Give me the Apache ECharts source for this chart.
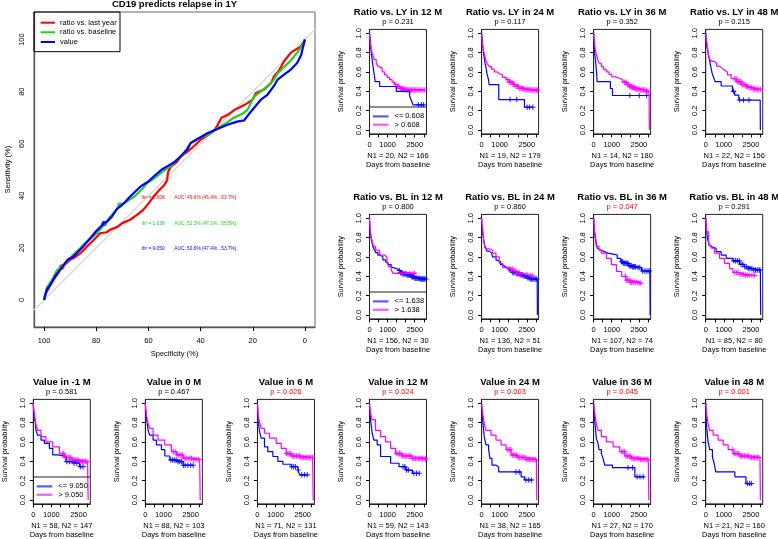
<!DOCTYPE html>
<html><head><meta charset="utf-8">
<script src="https://cdn.jsdelivr.net/npm/echarts@6/dist/echarts.min.js"></script>
<style>html,body{margin:0;padding:0;background:#fff}#wrap{position:relative;width:778px;height:539px}
#roc,#km{position:absolute;left:0;top:0;width:778px;height:539px}</style>
</head><body><div id="wrap"><div id="roc"></div><div id="km"></div></div>
<script>
// ---------------- ROC data (specificity %, sensitivity %) ----------------
const rocRed = [[100,0],[99.6,1.9],[98,5],[96.4,7.7],[94.5,10.5],[93.2,12.6],[91,14.5],[90,15.4],[88,16.5],[86,18],[84,20],[82.3,21.8],[80,24],[78.5,25.6],[76,26],[74.6,27],[72,28],[70,29.5],[67,30.8],[64,33],[62,34.6],[60,37],[58,39.7],[56,42],[54,44],[52.8,46],[52.5,49],[51.5,51],[49,53],[47.7,55],[45,57],[42,59.5],[40,61.5],[37,63.5],[34.5,65.5],[33.6,67],[32,70],[29.7,71],[27,73],[24,74.5],[22,75.6],[20,77],[18.8,79.5],[15.7,80.8],[13,83.3],[11.8,86],[10,88],[8,91.7],[5.4,95],[1.5,97.4],[0,100]];
const rocGreen = [[100,0],[99.6,0.6],[99,4.6],[97,7.5],[95,11.5],[92,14],[88.8,17.3],[86,20],[83.6,22.4],[81,24.5],[78.5,27],[76.5,29.5],[74.6,32],[72.5,34.5],[70.8,36.5],[68,38],[65,40],[62.5,42.5],[60.5,44.9],[58,46.5],[55,49],[51.5,51.3],[49,53.8],[46.5,56],[43.8,60.3],[41,62],[38.8,62.8],[36,64],[33.6,66],[30,68],[27.3,70],[24,71.5],[22,73],[19.6,78],[17,80],[14.4,82],[12,84.5],[10.5,87],[8,89.5],[5.4,92],[3,95],[1.5,97],[0,100]];
const rocBlue = [[100,0],[99,3.8],[97.5,6],[95.8,9],[93.5,12],[91,15.4],[89,16.5],[87.4,18],[85,20.5],[82.3,23.7],[80,26.5],[77,29.4],[75.9,30],[74,32],[72,35],[69,37.5],[67,39.7],[63,43.6],[60,45.5],[58,47.4],[55,50],[52.8,51.3],[50,53],[47.7,55.1],[45,58],[43.8,60.3],[40,62.5],[37.4,64],[34,65.5],[29.7,67.3],[26,68.5],[23.3,69],[21,72],[18.5,75],[16.9,76.9],[14.4,78.8],[12,82],[10.5,84.6],[8,86.5],[5.4,88.5],[3,91],[1.5,94],[0,100]];
const rocThrRed = [[93.2,12.6]];
const rocThrGreen = [[71,36.5]];
const rocThrBlue = [[77,29.4]];
const rocDiag = [[103.85,-3.85],[-3.85,103.85]];
const rocTicks = [0,20,40,60,80,100];
const rocLegend = ['ratio vs. last year','ratio vs. baseline','value'];
const rocThrText = ['thr = 0.608','thr = 1.638','thr = 9.050'];
const rocAucText = ['AUC: 49.6% (45.4%...53.7%)','AUC: 51.3% (47.1%...55.5%)','AUC: 50.6% (47.4%...53.7%)'];

// ---------------- Kaplan-Meier data (days, survival) ----------------
const ly12Lo = [[0,1],[30,0.95],[55,0.9],[75,0.85],[95,0.8],[130,0.75],[165,0.7],[200,0.65],[240,0.6],[280,0.55],[310,0.5],[560,0.45],[1480,0.4],[2220,0.35],[2330,0.3],[2400,0.26],[3000,0.26]];
const ly12LoC = [2700,2870,2990];
const ly12Hi = [[0,1],[20,0.95],[40,0.92],[60,0.88],[93,0.85],[130,0.81],[185,0.77],[250,0.73],[370,0.69],[460,0.66],[555,0.64],[700,0.6],[833,0.57],[970,0.545],[1111,0.52],[1250,0.495],[1389,0.47],[1530,0.45],[1667,0.43],[1850,0.42],[2037,0.414],[3050,0.414]];
const ly12HiC = [1450,1550,1620,1700,1760,1820,1880,1940,2000,2060,2120,2180,2250,2320,2400,2480,2560,2650,2750,2850,2950,3050];

const ly24Lo = [[0,1],[25,0.95],[50,0.9],[80,0.84],[110,0.79],[150,0.74],[200,0.68],[260,0.63],[300,0.58],[370,0.53],[420,0.47],[950,0.315],[2370,0.236],[2850,0.236]];
const ly24LoC = [1574,1944,2518,2648,2833];
const ly24Hi = [[0,1],[30,0.93],[55,0.88],[100,0.83],[148,0.79],[200,0.75],[240,0.72],[320,0.68],[426,0.655],[550,0.63],[700,0.6],[850,0.585],[981,0.57],[1150,0.545],[1352,0.52],[1530,0.495],[1722,0.47],[1900,0.45],[2093,0.43],[2350,0.42],[2648,0.414],[3100,0.41]];
const ly24HiC = [1444,1530,1610,1690,1760,1830,1900,1970,2040,2110,2180,2250,2320,2400,2480,2560,2640,2720,2800,2880,2960,3040,3100];

const ly36Lo = [[0,1],[15,0.929],[35,0.857],[55,0.786],[110,0.714],[140,0.643],[170,0.571],[190,0.5],[925,0.429],[1040,0.357],[3100,0.357]];
const ly36LoC = [2000,2520,2925];
const ly36Hi = [[0,1],[20,0.95],[40,0.91],[74,0.86],[100,0.82],[148,0.78],[200,0.75],[240,0.72],[300,0.69],[426,0.655],[550,0.625],[700,0.6],[850,0.575],[1000,0.55],[1200,0.535],[1444,0.52],[1600,0.495],[1815,0.47],[2000,0.45],[2093,0.44],[2300,0.425],[2550,0.414],[2850,0.4],[3060,0.4],[3080,0]];
const ly36HiC = [1700,1780,1850,1900,1950,2000,2050,2100,2150,2200,2260,2320,2380,2450,2520,2600,2680,2760,2840,2920,3000];

const ly48Lo = [[0,1],[18,0.955],[40,0.91],[70,0.86],[111,0.82],[150,0.77],[204,0.73],[250,0.68],[296,0.64],[350,0.59],[420,0.55],[520,0.5],[852,0.455],[1480,0.4],[1600,0.36],[1830,0.31],[3010,0.31],[3020,0]];
const ly48LoC = [1537,1870,2090,2390];
const ly48Hi = [[0,1],[18,0.95],[60,0.9],[111,0.83],[150,0.78],[204,0.74],[300,0.71],[481,0.69],[600,0.66],[759,0.64],[900,0.62],[1037,0.6],[1200,0.57],[1407,0.53],[1685,0.5],[1963,0.47],[2200,0.45],[2333,0.44],[2600,0.425],[2800,0.42],[3050,0.42]];
const ly48HiC = [1600,1680,1750,1820,1880,1940,2000,2060,2120,2180,2240,2300,2380,2460,2540,2620,2700,2780,2860,2940,3020];

const bl12Lo = [[0,1],[37,0.86],[80,0.8],[148,0.74],[200,0.7],[278,0.67],[350,0.645],[463,0.62],[600,0.6],[741,0.57],[900,0.545],[1019,0.52],[1200,0.495],[1296,0.48],[1500,0.46],[1667,0.44],[1850,0.425],[2037,0.414],[2300,0.395],[2500,0.38],[2800,0.372],[3120,0.372]];
const bl12LoC = [1650,1720,1790,1850,1910,1970,2030,2090,2150,2210,2270,2330,2390,2450,2510,2570,2630,2690,2750,2810,2870,2930,2990,3050,3110];
const bl12Hi = [[0,1],[20,0.93],[37,0.9],[70,0.83],[148,0.76],[222,0.71],[333,0.67],[556,0.62],[833,0.6],[963,0.55],[1056,0.5],[1200,0.47],[1300,0.43],[2500,0.43]];
const bl12HiC = [1760,2000,2220,2400,2500];

const bl24Lo = [[0,1],[30,0.9],[56,0.86],[100,0.8],[148,0.74],[200,0.7],[241,0.69],[300,0.66],[426,0.64],[550,0.62],[611,0.6],[800,0.57],[889,0.55],[1050,0.52],[1167,0.5],[1300,0.48],[1537,0.455],[1700,0.44],[1907,0.43],[2100,0.415],[2278,0.4],[2500,0.385],[2648,0.372],[3075,0.372],[3085,0]];
const bl24LoC = [1700,1780,1850,1920,1990,2060,2130,2200,2270,2340,2410,2480,2550,2620,2690,2760,2830,2900,2970,3040];
const bl24Hi = [[0,1],[20,0.94],[55,0.9],[111,0.78],[185,0.69],[333,0.67],[611,0.64],[796,0.6],[981,0.535],[1167,0.49],[1444,0.476],[1722,0.455],[1907,0.43],[2185,0.414],[2648,0.407],[2800,0.407]];
const bl24HiC = [1500,1600,1700,1800,1900,2000,2100,2200,2400,2550,2700,2800];

const bl36Lo = [[0,1],[20,0.93],[56,0.86],[100,0.8],[148,0.74],[200,0.69],[300,0.67],[426,0.655],[600,0.64],[800,0.63],[1074,0.62],[1300,0.586],[1500,0.55],[1630,0.534],[1907,0.51],[2100,0.5],[2370,0.49],[2648,0.455],[3110,0.455],[3120,0]];
const bl36LoC = [1537,1600,1660,1720,1780,1840,1900,1960,2020,2080,2140,2200,2260,2320,2450,2550,2700,2800,2900,3000,3080];
const bl36Hi = [[0,1],[20,0.93],[56,0.83],[148,0.71],[296,0.67],[426,0.64],[700,0.586],[980,0.52],[1260,0.45],[1537,0.4],[1780,0.36],[2000,0.34],[2500,0.33],[2650,0.33]];
const bl36HiC = [1750,1830,1900,1970,2040,2110,2200,2300,2400,2500,2600];

const bl48Lo = [[0,1],[20,0.93],[56,0.86],[111,0.78],[204,0.72],[300,0.7],[389,0.69],[574,0.655],[852,0.62],[1130,0.586],[1500,0.56],[1870,0.524],[2130,0.5],[2333,0.48],[2610,0.466],[3020,0.466],[3037,0]];
const bl48LoC = [1550,1650,1750,1850,1950,2050,2150,2250,2350,2450,2550,2650,2750,2850,2950,3000];
const bl48Hi = [[0,1],[20,0.93],[56,0.86],[167,0.72],[296,0.69],[481,0.64],[759,0.586],[1037,0.534],[1315,0.48],[1500,0.44],[1870,0.42],[2148,0.41],[2700,0.41]];
const bl48HiC = [1600,1700,1800,1900,2000,2100,2200,2300,2400,2550,2700];

const vm1Lo = [[0,1],[20,0.93],[56,0.86],[110,0.8],[148,0.72],[241,0.67],[426,0.62],[611,0.586],[889,0.534],[1074,0.466],[1352,0.45],[1815,0.397],[2185,0.38],[2556,0.345],[2750,0.345]];
const vm1LoC = [1850,2000,2150,2250,2400,2600,2750];
const vm1Hi = [[0,1],[20,0.94],[56,0.9],[100,0.84],[148,0.78],[241,0.72],[426,0.655],[700,0.6],[1074,0.55],[1444,0.48],[1722,0.44],[2093,0.414],[2556,0.397],[3000,0.397],[3030,0]];
const vm1HiC = [1600,1680,1760,1840,1920,2000,2080,2160,2240,2320,2400,2480,2560,2640,2720,2800,2880,2960];

const v0Lo = [[0,1],[20,0.93],[56,0.86],[150,0.72],[241,0.67],[426,0.62],[611,0.57],[889,0.52],[1074,0.455],[1352,0.414],[1722,0.397],[2093,0.36],[2650,0.36]];
const v0LoC = [1400,1500,1600,1700,1800,1900,2000,2100,2200,2350,2500,2650];
const v0Hi = [[0,1],[20,0.94],[56,0.88],[150,0.79],[241,0.74],[426,0.67],[700,0.62],[1074,0.57],[1444,0.5],[1722,0.466],[2093,0.43],[2650,0.42],[3000,0.414],[3030,0]];
const v0HiC = [1550,1650,1750,1850,1950,2050,2150,2250,2350,2450,2550,2650,2750,2850,2950];

const v6Lo = [[0,1],[20,0.93],[37,0.83],[111,0.71],[204,0.64],[389,0.55],[574,0.5],[852,0.45],[1130,0.4],[1407,0.37],[1870,0.345],[2240,0.31],[2330,0.26],[2800,0.26]];
const v6LoC = [1900,2000,2100,2250,2450,2600,2750];
const v6Hi = [[0,1],[20,0.94],[37,0.88],[111,0.81],[204,0.74],[389,0.69],[667,0.64],[1037,0.586],[1315,0.534],[1593,0.48],[1870,0.455],[2330,0.44],[3050,0.44],[3080,0]];
const v6HiC = [1600,1680,1760,1840,1920,2000,2080,2160,2240,2320,2400,2480,2560,2640,2720,2800,2880,2960,3040];

const v12Lo = [[0,1],[20,0.93],[56,0.83],[148,0.69],[241,0.62],[426,0.57],[611,0.45],[1167,0.38],[1630,0.345],[2000,0.31],[2370,0.276],[2750,0.276]];
const v12LoC = [1850,1950,2050,2150,2450,2600,2750];
const v12Hi = [[0,1],[20,0.95],[56,0.9],[148,0.83],[333,0.72],[611,0.655],[889,0.6],[1167,0.534],[1444,0.48],[1815,0.455],[2370,0.43],[3100,0.42]];
const v12HiC = [1500,1580,1660,1740,1820,1900,1980,2060,2140,2220,2300,2380,2460,2540,2620,2700,2780,2860,2940,3020,3100];

const v24Lo = [[0,1],[20,0.92],[56,0.83],[148,0.655],[241,0.57],[389,0.52],[463,0.43],[574,0.36],[800,0.34],[944,0.29],[2185,0.24],[2370,0.207],[2850,0.207]];
const v24LoC = [1900,2080,2450,2600,2750];
const v24Hi = [[0,1],[20,0.95],[56,0.91],[148,0.79],[241,0.72],[519,0.67],[796,0.62],[1074,0.57],[1352,0.52],[1630,0.466],[2000,0.44],[2463,0.42],[3030,0.42],[3050,0]];
const v24HiC = [1450,1530,1610,1690,1770,1850,1930,2010,2090,2170,2250,2330,2410,2490,2570,2650,2730,2810,2890,2970];

const v36Lo = [[0,1],[20,0.93],[56,0.83],[148,0.64],[241,0.586],[296,0.52],[426,0.48],[519,0.43],[611,0.36],[1037,0.334],[2278,0.24],[2800,0.24]];
const v36LoC = [1900,2150,2400,2560,2740];
const v36Hi = [[0,1],[20,0.95],[56,0.91],[148,0.79],[241,0.72],[426,0.655],[700,0.6],[1074,0.55],[1444,0.5],[1722,0.455],[2093,0.43],[2556,0.42],[3020,0.42],[3050,0]];
const v36HiC = [1550,1630,1710,1790,1870,1950,2030,2110,2190,2270,2350,2430,2510,2590,2670,2750,2830,2910,2990];

const v48Lo = [[0,1],[20,0.9],[37,0.79],[130,0.6],[222,0.52],[370,0.45],[463,0.38],[556,0.29],[1611,0.24],[2222,0.17],[2550,0.17]];
const v48LoC = [2300,2420,2520];
const v48Hi = [[0,1],[20,0.95],[37,0.91],[130,0.79],[222,0.72],[407,0.67],[685,0.62],[963,0.57],[1241,0.52],[1519,0.48],[1889,0.455],[2444,0.44],[3000,0.44],[3020,0]];
const v48HiC = [1500,1580,1660,1740,1820,1900,1980,2060,2140,2220,2300,2380,2460,2540,2620,2700,2780,2860,2940];

const kmTitles = ['Ratio vs. LY in 12 M','Ratio vs. LY in 24 M','Ratio vs. LY in 36 M','Ratio vs. LY in 48 M',
  'Ratio vs. BL in 12 M','Ratio vs. BL in 24 M','Ratio vs. BL in 36 M','Ratio vs. BL in 48 M',
  'Value in -1 M','Value in 0 M','Value in 6 M','Value in 12 M','Value in 24 M','Value in 36 M','Value in 48 M'];
const kmP = ['0.231','0.117','0.352','0.215','0.800','0.860','0.047','0.291','0.581','0.467','0.026','0.024','0.003','0.045','0.001'];
const kmN1 = [20,19,14,22,156,136,107,85,58,88,71,59,38,27,21];
const kmN2 = [166,179,180,156,30,51,74,80,147,103,131,143,165,170,160];
const kmLo = [ly12Lo,ly24Lo,ly36Lo,ly48Lo,bl12Lo,bl24Lo,bl36Lo,bl48Lo,vm1Lo,v0Lo,v6Lo,v12Lo,v24Lo,v36Lo,v48Lo];
const kmLoC = [ly12LoC,ly24LoC,ly36LoC,ly48LoC,bl12LoC,bl24LoC,bl36LoC,bl48LoC,vm1LoC,v0LoC,v6LoC,v12LoC,v24LoC,v36LoC,v48LoC];
const kmHi = [ly12Hi,ly24Hi,ly36Hi,ly48Hi,bl12Hi,bl24Hi,bl36Hi,bl48Hi,vm1Hi,v0Hi,v6Hi,v12Hi,v24Hi,v36Hi,v48Hi];
const kmHiC = [ly12HiC,ly24HiC,ly36HiC,ly48HiC,bl12HiC,bl24HiC,bl36HiC,bl48HiC,vm1HiC,v0HiC,v6HiC,v12HiC,v24HiC,v36HiC,v48HiC];
const kmCut = ['0.608','1.638','9.050'];
const kmXTicks = [0,500,1000,1500,2000,2500,3000];
const kmXLabels = [0,1000,2500];
const kmYTicks = [0,0.2,0.4,0.6,0.8,1.0];

// ---------------- layout ----------------
const FONT = '"Liberation Sans", Arial, sans-serif';
const COL0 = 33.3, COLSTEP = 112.07, BW = 57, BH = 104.5;
const ROWTOP = [29.4, 214.4, 399.4];
const panelPos = [];
for (let i = 0; i < 15; i++) {
  if (i < 8) panelPos.push({col: 3 + (i % 4), row: Math.floor(i / 4)});
  else panelPos.push({col: i - 8, row: 2});
}

function survAt(curve, t) {
  let s = curve[0][1];
  for (const p of curve) { if (p[0] <= t) s = p[1]; else break; }
  return s;
}
const PLUS = 'path://M4,0H6V4H10V6H6V10H4V6H0V4H4Z';
const BLUE = '#0000ff', MAG = '#ff00ff';

function txt(list, x, y, text, size, opts) {
  opts = opts || {};
  list.push({type: 'text', x: x, y: y, rotation: opts.rot || 0, silent: true, z: 100,
    style: {text: text, fill: opts.color || '#000', align: opts.align || 'center', verticalAlign: 'middle',
      font: (opts.bold ? 'bold ' : '') + size + 'px ' + FONT}});
}
function seg(list, x1, y1, x2, y2, color, w) {
  list.push({type: 'line', silent: true, z: 100, shape: {x1: x1, y1: y1, x2: x2, y2: y2}, style: {stroke: color, lineWidth: w}});
}
function rect(list, x, y, w, h, color) {
  list.push({type: 'rect', silent: true, z: 99, shape: {x: x, y: y, width: w, height: h}, style: {fill: 'none', stroke: color, lineWidth: 1}});
}
const plainNum = v => String(v);
const axLine = (c, w) => ({show: true, onZero: false, lineStyle: {color: c, width: w}});

// ---------------- ROC chart ----------------
const rocG = [];
const RX = 34, RY = 12, RW = 281, RH = 315;
const rocCols = ['#ff0000', '#22cc22', '#0000ff'];
const rocSeries = [];
rocSeries.push({type: 'line', data: rocDiag, symbol: 'none', lineStyle: {color: '#d6dcd6', width: 1.5}, silent: true});
[rocRed, rocGreen, rocBlue].forEach((d, k) => {
  rocSeries.push({type: 'line', data: d, symbol: 'none', lineStyle: {color: rocCols[k], width: 2.2}, silent: true});
});
[rocThrRed, rocThrGreen, rocThrBlue].forEach((d, k) => {
  rocSeries.push({type: 'scatter', data: d, symbol: 'circle', symbolSize: 5.5, itemStyle: {color: rocCols[k]}, silent: true});
});
txt(rocG, RX + RW / 2, 4.7, 'CD19 predicts relapse in 1Y', 9.5, {bold: true});
txt(rocG, RX + RW / 2, 354, 'Specificity (%)', 7.5);
txt(rocG, 8, RY + RH / 2, 'Sensitivity (%)', 7.5, {rot: Math.PI / 2});
rect(rocG, RX, RY, 86, 39.7, '#000');
const legY = [22.7, 32.3, 42];
for (let k = 0; k < 3; k++) {
  seg(rocG, 40.7, legY[k], 55, legY[k], rocCols[k], 2);
  txt(rocG, 60, legY[k], rocLegend[k], 7.5, {align: 'left'});
}
const aucY = [197.7, 223.3, 248.3];
for (let k = 0; k < 3; k++) {
  txt(rocG, 141.5, aucY[k], rocThrText[k], 4.8, {align: 'left', color: rocCols[k]});
  txt(rocG, 174.3, aucY[k], rocAucText[k], 4.8, {align: 'left', color: rocCols[k]});
}
const rocChart = echarts.init(document.getElementById('roc'));
rocChart.setOption({
  animation: false,
  backgroundColor: '#fff',
  grid: [{left: RX, top: RY, width: RW, height: RH, show: true, borderColor: '#666', borderWidth: 1, outerBoundsMode: 'none'}],
  xAxis: [{type: 'value', position: 'bottom', min: -3.85, max: 103.85, inverse: true,
    axisLine: axLine('#555', 1.3), splitLine: {show: false},
    axisTick: {show: true, length: 4, customValues: rocTicks, lineStyle: {color: '#000'}},
    axisLabel: {customValues: rocTicks, fontSize: 7.5, fontFamily: FONT, color: '#000', margin: 10, formatter: plainNum}}],
  yAxis: [{type: 'value', position: 'left', min: -10.4, max: 110.6,
    axisLine: axLine('#555', 1.3), splitLine: {show: false},
    axisTick: {show: false},
    axisLabel: {customValues: rocTicks, rotate: 90, fontSize: 7.5, fontFamily: FONT, color: '#000', margin: 8, formatter: plainNum}}],
  series: rocSeries,
  graphic: {elements: rocG}
});

// ---------------- KM chart ----------------
const grids = [], xAxes = [], yAxes = [], series = [], kmG = [];
for (let i = 0; i < 15; i++) {
  const g = i;
  const L = COL0 + panelPos[i].col * COLSTEP, T = ROWTOP[panelPos[i].row];
  grids.push({left: L, top: T, width: BW, height: BH, show: true, borderColor: '#222', borderWidth: 1, outerBoundsMode: 'none'});
  xAxes.push({type: 'value', gridIndex: g, position: 'bottom', min: 0, max: 3150, axisLine: axLine('#222', 1), splitLine: {show: false},
    axisTick: {show: true, length: 3.5, customValues: kmXTicks, lineStyle: {color: '#000'}},
    axisLabel: {customValues: kmXLabels, fontSize: 7.5, fontFamily: FONT, color: '#000', margin: 7.5, formatter: plainNum}});
  yAxes.push({type: 'value', gridIndex: g, position: 'left', min: -0.04, max: 1.04, axisLine: axLine('#222', 1), splitLine: {show: false},
    axisTick: {show: true, length: 3.5, customValues: kmYTicks, lineStyle: {color: '#000'}},
    axisLabel: {customValues: kmYTicks, rotate: 90, fontSize: 7.5, fontFamily: FONT, color: '#000', margin: 6.5,
      formatter: v => v.toFixed(1)}});
  const lo = kmLo[i], hi = kmHi[i];
  series.push({type: 'line', xAxisIndex: g, yAxisIndex: g, data: lo, step: 'end', symbol: 'none', lineStyle: {color: BLUE, width: 1.2}, silent: true});
  series.push({type: 'line', xAxisIndex: g, yAxisIndex: g, data: hi, step: 'end', symbol: 'none', lineStyle: {color: MAG, width: 1.2}, silent: true});
  series.push({type: 'scatter', xAxisIndex: g, yAxisIndex: g, data: kmLoC[i].map(t => [t, survAt(lo, t)]), symbol: PLUS, symbolSize: 5.5, itemStyle: {color: BLUE}, silent: true});
  series.push({type: 'scatter', xAxisIndex: g, yAxisIndex: g, data: kmHiC[i].map(t => [t, survAt(hi, t)]), symbol: PLUS, symbolSize: 5.5, itemStyle: {color: MAG}, silent: true});
  const cx = L + BW / 2;
  txt(kmG, cx, T - 16.7, kmTitles[i], 9.5, {bold: true});
  const sig = parseFloat(kmP[i]) < 0.05;
  txt(kmG, cx, T - 7.3, 'p = ' + kmP[i], 7.5, {color: sig ? '#ff0000' : '#000'});
  txt(kmG, cx, T + 126.3, 'N1 = ' + kmN1[i] + ', N2 = ' + kmN2[i], 7.5);
  txt(kmG, cx, T + 135.6, 'Days from baseline', 7.5);
  txt(kmG, L - 28.5, T + BH / 2, 'Survival probability', 7.3, {rot: Math.PI / 2});
  if (i === 0 || i === 4 || i === 8) {
    const cut = kmCut[i === 0 ? 0 : (i === 4 ? 1 : 2)];
    seg(kmG, L, T + 77.6, L + BW, T + 77.6, '#222', 1);
    seg(kmG, L + 3.4, T + 87, L + 19, T + 87, '#5a5af5', 2.2);
    seg(kmG, L + 3.4, T + 95.3, L + 19, T + 95.3, '#f75af5', 2.2);
    txt(kmG, L + 25, T + 87, '<= ' + cut, 7.5, {align: 'left'});
    txt(kmG, L + 25, T + 95.3, '> ' + cut, 7.5, {align: 'left'});
  }
}
const kmChart = echarts.init(document.getElementById('km'));
kmChart.setOption({
  animation: false,
  backgroundColor: 'transparent',
  grid: grids, xAxis: xAxes, yAxis: yAxes, series: series,
  graphic: {elements: kmG}
});
</script></body></html>
